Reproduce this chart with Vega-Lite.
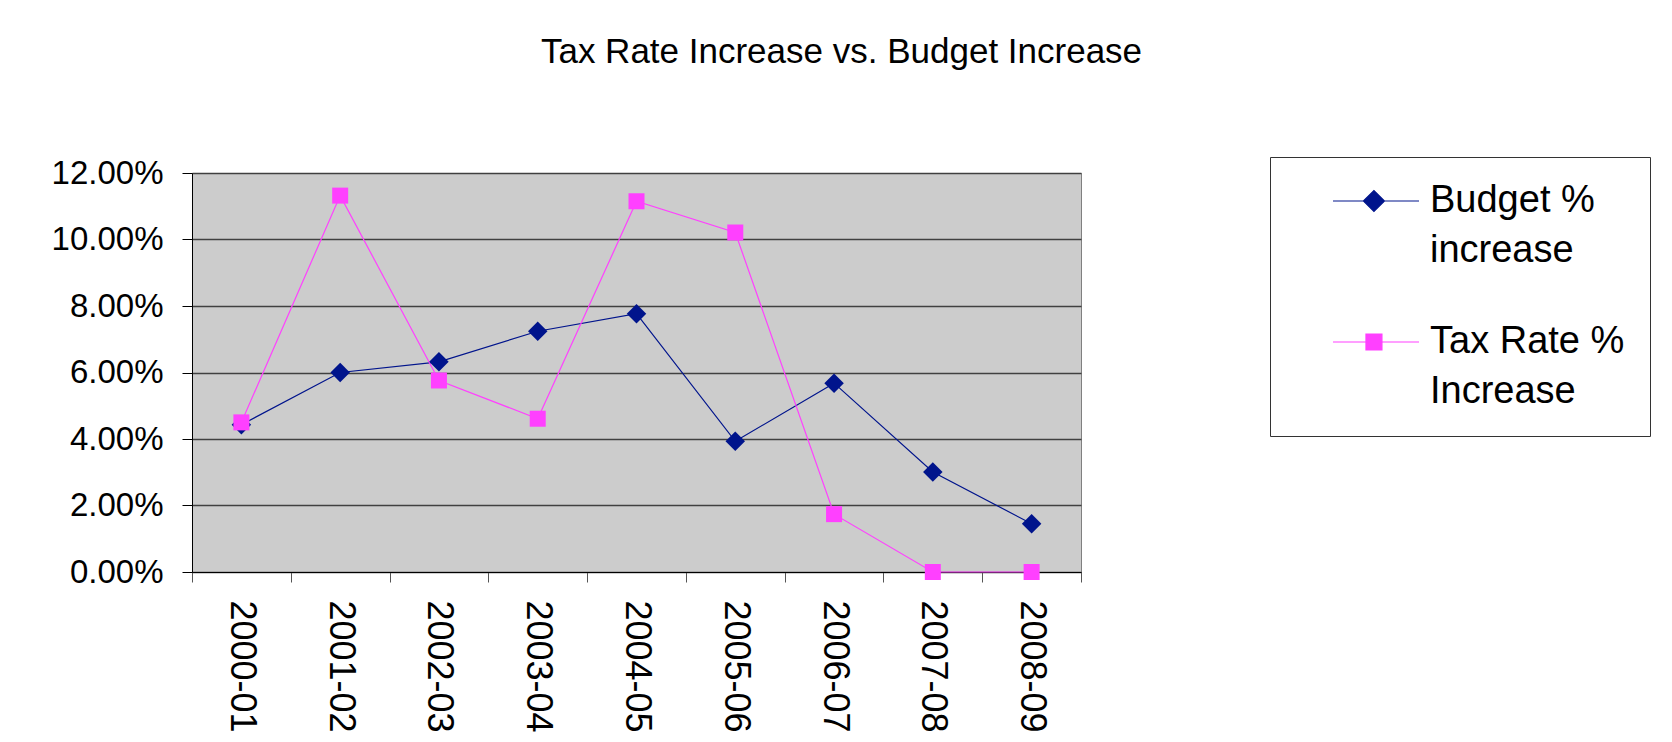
{
  "$schema": "https://vega.github.io/schema/vega-lite/v6.json",
  "autosize": {"type": "none"},
  "padding": {"left": 192, "top": 173, "right": 591, "bottom": 170},
  "width": 889,
  "height": 399,
  "background": "white",
  "title": {
    "text": "Tax Rate Increase vs. Budget Increase",
    "font": "Liberation Sans",
    "fontSize": 35,
    "fontWeight": "normal",
    "color": "black",
    "anchor": "middle",
    "dx": 205,
    "baseline": "alphabetic",
    "offset": 59
  },
  "data": {
    "values": [
      {"year": "2000-01", "series": "Budget % increase", "value": 0.0443},
      {"year": "2001-02", "series": "Budget % increase", "value": 0.0600},
      {"year": "2002-03", "series": "Budget % increase", "value": 0.0632},
      {"year": "2003-04", "series": "Budget % increase", "value": 0.0724},
      {"year": "2004-05", "series": "Budget % increase", "value": 0.0777},
      {"year": "2005-06", "series": "Budget % increase", "value": 0.0393},
      {"year": "2006-07", "series": "Budget % increase", "value": 0.0568},
      {"year": "2007-08", "series": "Budget % increase", "value": 0.0301},
      {"year": "2008-09", "series": "Budget % increase", "value": 0.0145},
      {"year": "2000-01", "series": "Tax Rate % Increase", "value": 0.0450},
      {"year": "2001-02", "series": "Tax Rate % Increase", "value": 0.1132},
      {"year": "2002-03", "series": "Tax Rate % Increase", "value": 0.0576},
      {"year": "2003-04", "series": "Tax Rate % Increase", "value": 0.0461},
      {"year": "2004-05", "series": "Tax Rate % Increase", "value": 0.1115},
      {"year": "2005-06", "series": "Tax Rate % Increase", "value": 0.1021},
      {"year": "2006-07", "series": "Tax Rate % Increase", "value": 0.0174},
      {"year": "2007-08", "series": "Tax Rate % Increase", "value": 0.0},
      {"year": "2008-09", "series": "Tax Rate % Increase", "value": 0.0}
    ]
  },
  "encoding": {
    "x": {
      "field": "year",
      "type": "nominal",
      "sort": null,
      "scale": {"type": "band", "paddingInner": 0, "paddingOuter": 0},
      "axis": {
        "title": null,
        "labelAngle": 90,
        "labelAlign": "left",
        "labelBaseline": "middle",
        "labelFont": "Liberation Sans",
        "labelFontSize": 36,
        "labelColor": "black",
        "labelPadding": 18,
        "tickBand": "extent",
        "tickSize": 10,
        "tickColor": "#555555",
        "domainColor": "black",
        "grid": false,
        "labelLimit": 400
      }
    },
    "y": {
      "field": "value",
      "type": "quantitative",
      "scale": {"domain": [0, 0.12], "nice": false, "zero": true},
      "axis": {
        "title": null,
        "values": [0, 0.02, 0.04, 0.06, 0.08, 0.1, 0.12],
        "format": ".2%",
        "labelFont": "Liberation Sans",
        "labelFontSize": 33,
        "labelColor": "black",
        "labelPadding": 19,
        "tickSize": 10,
        "tickColor": "black",
        "domainColor": "black",
        "gridColor": "#404040",
        "gridWidth": 1.5
      }
    }
  },
  "layer": [
    {
      "mark": {"type": "line", "strokeWidth": 1.2},
      "encoding": {
        "stroke": {
          "field": "series",
          "type": "nominal",
          "scale": {"domain": ["Budget % increase", "Tax Rate % Increase"], "range": ["#00148c", "#ff40ff"]},
          "legend": {
            "orient": "none", "legendX": 1078, "legendY": -16, "title": null,
            "fillColor": "white", "strokeColor": "#333333", "padding": 25,
            "labelFont": "Liberation Sans", "labelFontSize": 38, "labelColor": "black",
            "labelLimit": 400, "labelOffset": 97, "labelBaseline": "alphabetic",
            "symbolSize": 441, "symbolStrokeWidth": 1.2, "symbolOpacity": 1, "rowPadding": 53,
            "labelExpr": "datum.label == 'Budget % increase' ? ['Budget %', 'increase'] : ['Tax Rate %', 'Increase']",
            "encode": {"labels": {"update": {"lineHeight": {"value": 50}, "dy": {"value": 11}}}}
          }
        }
      }
    },
    {
      "mark": {"type": "point", "filled": true, "opacity": 0, "size": 441},
      "encoding": {
        "fill": {
          "field": "series",
          "type": "nominal",
          "scale": {"domain": ["Budget % increase", "Tax Rate % Increase"], "range": ["#00148c", "#ff40ff"]},
          "legend": {
            "orient": "none", "legendX": 1078, "legendY": -16, "title": null,
            "fillColor": "white", "strokeColor": "#333333", "padding": 25,
            "labelFont": "Liberation Sans", "labelFontSize": 38, "labelColor": "black",
            "labelLimit": 400, "labelOffset": 97, "labelBaseline": "alphabetic",
            "symbolSize": 441, "symbolStrokeWidth": 1.2, "symbolOpacity": 1, "rowPadding": 53,
            "labelExpr": "datum.label == 'Budget % increase' ? ['Budget %', 'increase'] : ['Tax Rate %', 'Increase']",
            "encode": {"labels": {"update": {"lineHeight": {"value": 50}, "dy": {"value": 11}}}}
          }
        },
        "stroke": {
          "field": "series",
          "type": "nominal",
          "scale": {"domain": ["Budget % increase", "Tax Rate % Increase"], "range": ["#00148c", "#ff40ff"]},
          "legend": {
            "orient": "none", "legendX": 1078, "legendY": -16, "title": null,
            "fillColor": "white", "strokeColor": "#333333", "padding": 25,
            "labelFont": "Liberation Sans", "labelFontSize": 38, "labelColor": "black",
            "labelLimit": 400, "labelOffset": 97, "labelBaseline": "alphabetic",
            "symbolSize": 441, "symbolStrokeWidth": 1.2, "symbolOpacity": 1, "rowPadding": 53,
            "labelExpr": "datum.label == 'Budget % increase' ? ['Budget %', 'increase'] : ['Tax Rate %', 'Increase']",
            "encode": {"labels": {"update": {"lineHeight": {"value": 50}, "dy": {"value": 11}}}}
          }
        },
        "shape": {
          "field": "series",
          "type": "nominal",
          "scale": {"domain": ["Budget % increase", "Tax Rate % Increase"], "range": ["M1.81,0H10M4.71,0L5.71,-1L6.71,0L5.71,1Z", "M1.81,0H10M4.95,-0.76H6.47V0.76H4.95Z"]},
          "legend": {
            "orient": "none", "legendX": 1078, "legendY": -16, "title": null,
            "fillColor": "white", "strokeColor": "#333333", "padding": 25,
            "labelFont": "Liberation Sans", "labelFontSize": 38, "labelColor": "black",
            "labelLimit": 400, "labelOffset": 97, "labelBaseline": "alphabetic",
            "symbolSize": 441, "symbolStrokeWidth": 1.2, "symbolOpacity": 1, "rowPadding": 53,
            "labelExpr": "datum.label == 'Budget % increase' ? ['Budget %', 'increase'] : ['Tax Rate %', 'Increase']",
            "encode": {"labels": {"update": {"lineHeight": {"value": 50}, "dy": {"value": 11}}}}
          }
        }
      }
    },
    {
      "transform": [{"filter": "datum.series == 'Budget % increase'"}],
      "mark": {"type": "point", "filled": true, "opacity": 1, "shape": "diamond", "size": 380, "color": "#00148c"}
    },
    {
      "transform": [{"filter": "datum.series == 'Tax Rate % Increase'"}],
      "mark": {"type": "point", "filled": true, "opacity": 1, "shape": "square", "size": 256, "color": "#ff40ff"}
    }
  ],
  "config": {
    "view": {"stroke": "#808080", "fill": "#cccccc"}
  }
}
